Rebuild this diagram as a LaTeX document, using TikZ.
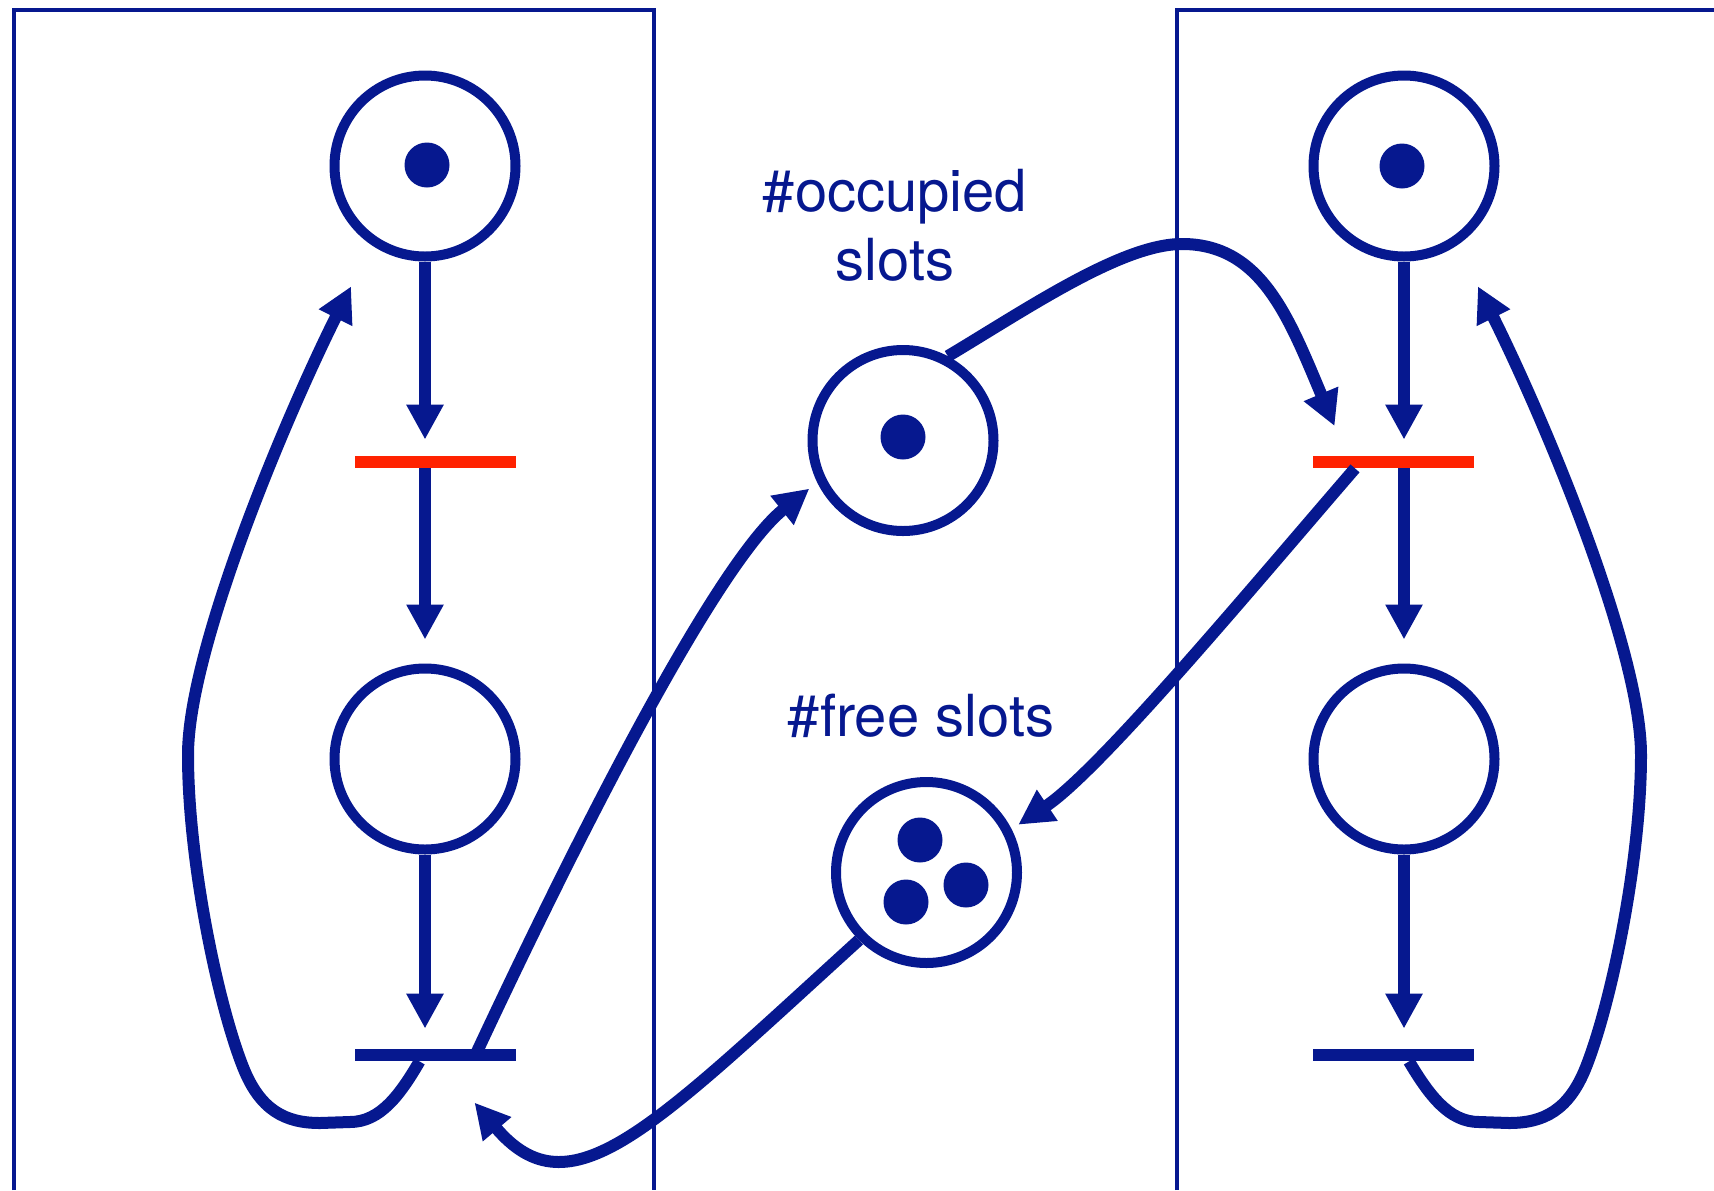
\documentclass[tikz,border=0pt]{standalone}
\usepackage{fontspec}
\setmainfont{TeX Gyre Heros}
\usetikzlibrary{arrows.meta}
\definecolor{netblue}{RGB}{6,24,143}
\definecolor{netred}{RGB}{255,34,0}
\begin{document}
\begin{tikzpicture}[x=0.5pt, y=-0.5pt, netblue,
    place/.style = {draw, circle, line width=5pt, minimum size=90.5pt, inner sep=0pt},
    token/.style = {fill, circle, minimum size=22.5pt, inner sep=0pt},
    trans/.style = {fill, rectangle, minimum width=80.5pt, minimum height=6pt, inner sep=0pt},
    flow/.style = {line width=6pt, -{Triangle[length=17.5pt, width=17.5pt]}},
    lbl/.style = {font=\fontsize{29}{34.5}\selectfont, align=center}]
  \useasboundingbox (0,0) rectangle (1714,1190);
  % process boxes
  \draw[line width=2pt] (14,1190) -- (14,10) -- (654,10) -- (654,1190);
  \draw[line width=2pt] (1177,1190) -- (1177,10) -- (1714,10);
  % left process
  \node[place] (p1) at (425,166) {};
  \node[token] (k1) at (427,165) {};
  \node[trans, netred] (t1) at (435.5,462) {};
  \node[place] (p2) at (425,759) {};
  \node[trans] (t2) at (435.5,1055) {};
  % right process
  \node[place] (q1) at (1404,166) {};
  \node[token] (k2) at (1402,166) {};
  \node[trans, netred] (t3) at (1393,462) {};
  \node[place] (q2) at (1404,759) {};
  \node[trans] (t4) at (1393,1055) {};
  % shared places
  \node[place] (p3) at (903,440.5) {};
  \node[token] (k3) at (903,437) {};
  \node[lbl] (l3) at (895,225) {\#occupied\\slots};
  \node[place] (p4) at (926.5,872.5) {};
  \node[token] (k4) at (920,840) {};
  \node[token] (k5) at (906,902) {};
  \node[token] (k6) at (966,885) {};
  \node[lbl, anchor=base] (l4) at (921,736) {\#free slots};
  % left arcs
  \draw[flow, shorten >=8pt] (p1) -- (p1 |- t1.north);
  \draw[flow, shorten >=12pt] (p1 |- t1.south) -- (p2);
  \draw[flow, shorten >=10pt] (p2) -- (p2 |- t2.north);
  \draw[flow, shorten >=23pt] ([xshift=-8pt]t2.south) .. controls (400,1095) and (380,1122) .. (350,1122)
    -- (320,1123) .. controls (285,1123) and (260,1110) .. (243,1067)
    .. controls (217.5,1002.5) and (188,860) .. (188,755)
    .. controls (188,650) and (284,421) .. (p1.236);
  % right arcs
  \draw[flow, shorten >=8pt] (q1) -- (q1 |- t3.north);
  \draw[flow, shorten >=12pt] (q1 |- t3.south) -- (q2);
  \draw[flow, shorten >=10pt] (q2) -- (q2 |- t4.north);
  \draw[flow, shorten >=23pt] ([xshift=8pt]t4.south) .. controls (1429,1095) and (1449,1122) .. (1479,1122)
    -- (1509,1123) .. controls (1544,1123) and (1569,1110) .. (1586,1067)
    .. controls (1611.5,1002.5) and (1641,860) .. (1641,755)
    .. controls (1641,650) and (1545,421) .. (q1.304);
  % shared arcs
  \draw[flow, shorten >=5pt] ([xshift=20pt]t2.center) .. controls (590,810) and (720,560) .. (p3.206);
  \draw[flow, shorten >=16pt] (p3.62) .. controls (1030,307) and (1125,242) .. (1185,244)
    .. controls (1262,246) and (1289,318) .. ([xshift=-23pt]t3.north);
  \draw[flow, shorten >=4pt] ([xshift=-19pt]t3.south) .. controls (1250,590) and (1100,770) .. (p4.27);
  \draw[flow, shorten >=27pt] (p4.225) .. controls (650,1130) and (570,1215) .. ([xshift=2pt]t2.south);
\end{tikzpicture}
\end{document}
